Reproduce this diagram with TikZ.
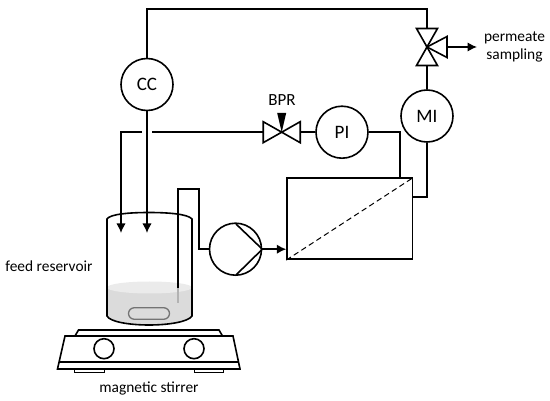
\documentclass[tikz,border=0pt]{standalone}
\usepackage{fontspec}
\setmainfont{Carlito}
\usetikzlibrary{arrows.meta,calc}

\tikzset{
    instr/.style={draw, circle, line width=1.6pt, minimum size=52pt, inner sep=0pt, font=\fontsize{19}{19}\selectfont},
    pipe/.style={line width=1.6pt},
    flow/.style={line width=1.6pt, -{Latex[length=9.5pt,width=9.5pt]}},
    txt/.style={font=\fontsize{15.4}{18.5}\selectfont, align=center, inner sep=0pt}
}

\begin{document}
\begin{tikzpicture}[x=1pt, y=-1pt]

        % Page size of the reference
        \useasboundingbox (0,0) rectangle (550,401);

        % Define parameters
        \def\vw{10.5}   % Half width of a valve triangle

        % Instruments and pump
        \node[instr] (cc) at (147,84.5) {CC};
        \node[instr] (pi) at (342,132.2) {PI};
        \node[instr] (mi) at (427,116) {MI};
        \node[instr] (pump) at (235.5,249.2) {};

        % Pump impeller lines
        \draw[pipe] (pump.east) -- (236,224);
        \draw[pipe] (pump.east) -- (236,275);

        % Membrane module
        \node[draw, line width=1.6pt, minimum width=125.5pt, minimum height=81pt, inner sep=0pt] (module) at (349.8,218.8) {};
        \draw[dash pattern=on 5.5pt off 3.5pt, line width=1pt] (module.south west) -- (module.north east);

        % Back pressure regulator
        \coordinate (bpr) at (281.7,132.2);
        \coordinate (bprin) at (263.2,132.2);
        \coordinate (bprout) at (300.2,132.2);
        \draw[pipe, line join=miter] (bpr) -- ($(bprin)+(0,-\vw)$) -- ($(bprin)+(0,\vw)$) -- cycle;
        \draw[pipe, line join=miter] (bpr) -- ($(bprout)+(0,-\vw)$) -- ($(bprout)+(0,\vw)$) -- cycle;
        \fill[black] (bpr) -- (277.2,113) -- (286.2,113) -- cycle;
        \node[txt, font=\fontsize{17}{18}\selectfont] (bprlabel) at (282,100.5) {BPR};

        % Three way valve
        \coordinate (tv) at (427,47);
        \coordinate (tvtop) at (427,28.5);
        \coordinate (tvbot) at (427,65.5);
        \coordinate (tvout) at (447,47);
        \draw[pipe, line join=miter] (tv) -- ($(tvtop)+(-\vw,0)$) -- ($(tvtop)+(\vw,0)$) -- cycle;
        \draw[pipe, line join=miter] (tv) -- ($(tvbot)+(-\vw,0)$) -- ($(tvbot)+(\vw,0)$) -- cycle;
        \draw[pipe, line join=miter] (tv) -- ($(tvout)+(0,-\vw)$) -- ($(tvout)+(0,\vw)$) -- cycle;

        % Coordinates for the free ends of the lines
        \coordinate (gapright) at (152,132.2);
        \coordinate (gapleft) at (142,132.2);
        \coordinate (inleft) at (121,233);
        \coordinate (incc) at (147,233);
        \coordinate (tube) at (178,288);
        \coordinate (tubeend) at (178,303);
        \coordinate (sampleout) at (477,47);
        \coordinate (pitop) at (400,178.5);
        \coordinate (miend) at (412.2,197.2);
        \coordinate (ccbend) at (427,9);

        % Beaker contents
        \fill[black!14] (107,287) -- (192,287) -- (192,316) .. controls (188,322) and (168,325) .. (149,325)
            .. controls (130,325) and (110,322) .. (107,316) -- cycle;
        \fill[black!8] (149.5,287.5) ellipse (42.5 and 6);
        \node[draw=black!55, line width=1.3pt, rounded corners=5.8pt, minimum width=41pt, minimum height=11.5pt, inner sep=0pt] (bar) at (149,313.5) {};

        % Beaker outline
        \draw[pipe] (107,219) .. controls (110,214) and (130,212.5) .. (149,212.5)
            .. controls (168,212.5) and (188,214) .. (192,219) -- (192,316)
            .. controls (188,322) and (168,325) .. (149,325)
            .. controls (130,325) and (110,322) .. (107,316) -- cycle;

        % Lines
        \draw[pipe] (cc.north) |- (ccbend) -- (tvtop);
        \draw[pipe] (tvbot) -- (mi.north);
        \draw[pipe] (mi.south) |- (miend);
        \draw[pipe] (pi.east) -| (pitop);
        \draw[pipe] (pi.west) -- (bprout);
        \draw[pipe] (bprin) -- (gapright);
        \draw[flow] (gapleft) -| (inleft);
        \draw[flow] (cc.south) -- (incc);
        \draw[flow] (tvout) -- (sampleout);
        \draw[flow] (pump.east) -- (module.west |- pump.east);
        \draw[pipe] (pump.west) -| (199,189) -| (tube);
        \draw[line width=1.3pt, black!30] (tube) -- (tubeend);

        % Magnetic stirrer
        \draw[pipe] (75,336) -- (78.5,330) -- (219,330) -- (222.5,336);
        \draw[pipe] (65,336) -- (233,336) -- (240,369) -- (57.5,369) -- cycle;
        \draw[pipe] (59,362) -- (238.5,362);
        \foreach \k in {104,194} {
            \draw[pipe] (\k,348.7) circle (10);
        }
        \foreach \k in {74.5,194} {
            \draw[line width=1pt] (\k,369) -- (\k,372.5) -- (\k+29.5,372.5) -- (\k+29.5,369);
        }

        % Labels
        \node[txt] (permeate) at (514.5,47) {permeate\\sampling};
        \node[txt] (feed) at (49,266) {feed reservoir};
        \node[txt] (stirrer) at (149,389) {magnetic stirrer};

    \end{tikzpicture}
\end{document}
